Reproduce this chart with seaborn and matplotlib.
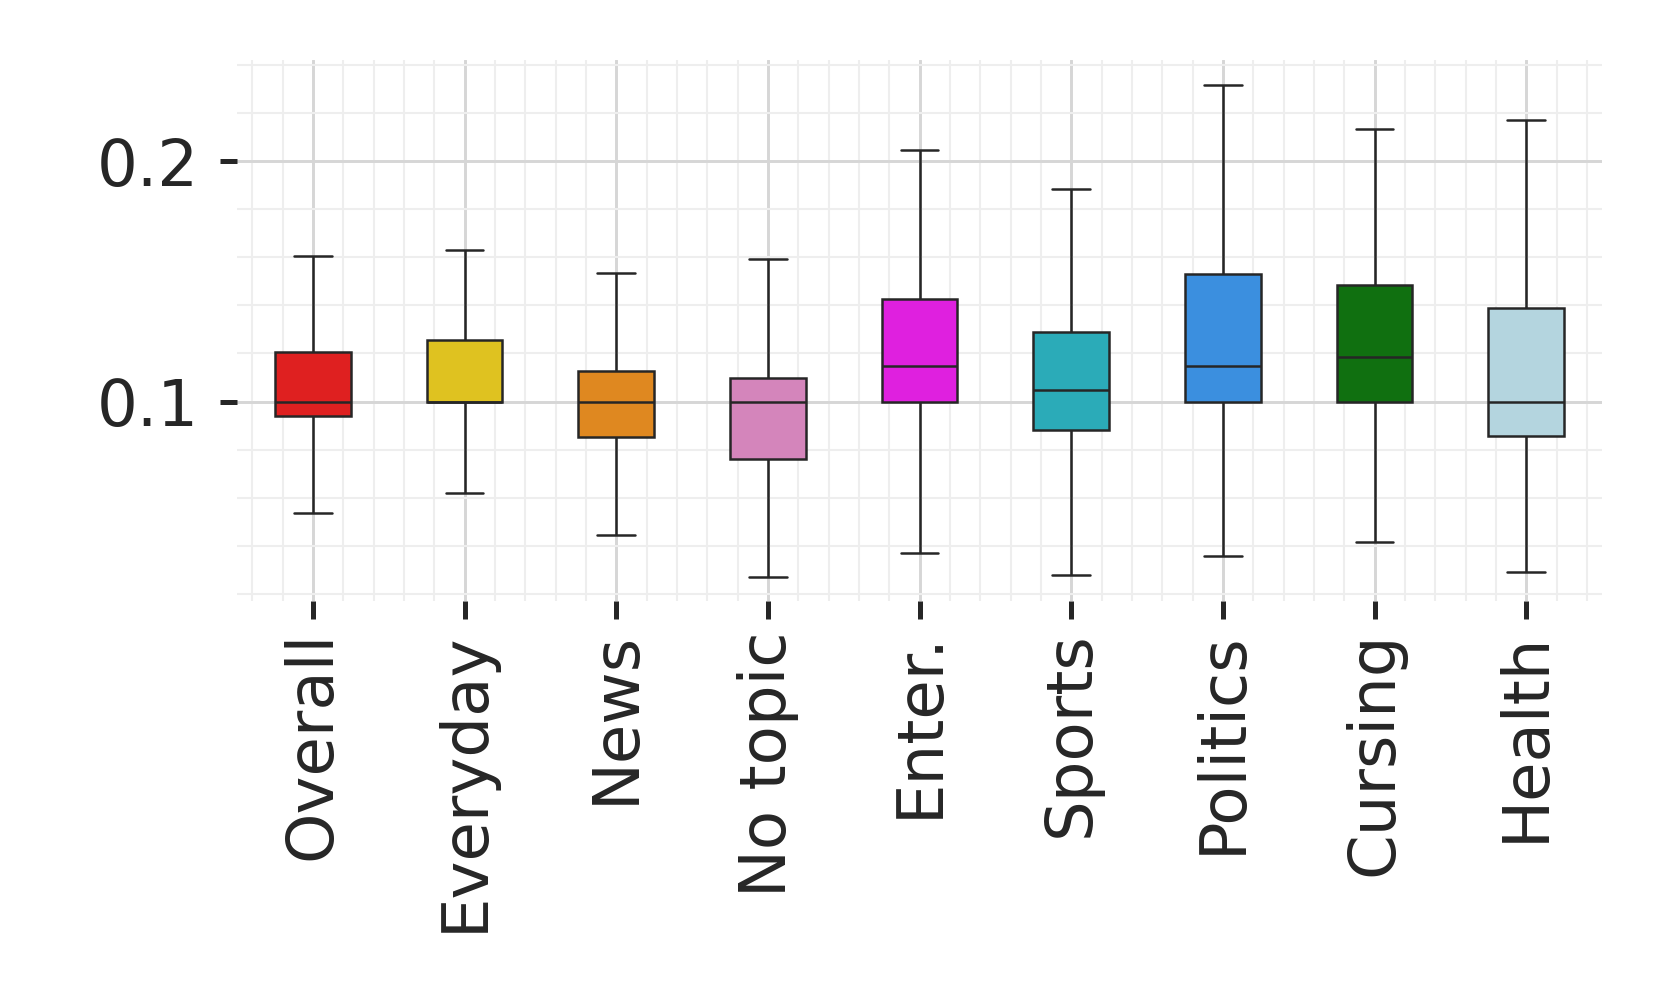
import numpy as np
import pandas as pd
import seaborn as sns
import matplotlib
matplotlib.use("Agg")
import matplotlib.pyplot as plt
from matplotlib.ticker import MultipleLocator, AutoMinorLocator

# five-number summaries (whisker low, Q1, median, Q3, whisker high)
categorias = ["Overall", "Everyday", "News", "No topic", "Enter.",
              "Sports", "Politics", "Cursing", "Health"]
whisker_low = [0.0538, 0.0620, 0.0445, 0.0272, 0.0369, 0.0280, 0.0358, 0.0417, 0.0292]
q1 = [0.0938, 0.1000, 0.0852, 0.0763, 0.1000, 0.0883, 0.1000, 0.1000, 0.0858]
mediana = [0.1000, 0.1000, 0.1000, 0.1000, 0.1146, 0.1048, 0.1149, 0.1186, 0.1000]
q3 = [0.1208, 0.1254, 0.1128, 0.1097, 0.1425, 0.1289, 0.1531, 0.1485, 0.1391]
whisker_high = [0.1606, 0.1632, 0.1534, 0.1591, 0.2045, 0.1886, 0.2317, 0.2132, 0.2171]

cores = ["#df2020", "#dfc220", "#df8820", "#d485bb", "#df20df",
         "#2babb8", "#3b8fdf", "#107010", "#b4d5df"]

linhas = []
for i, cat in enumerate(categorias):
    for v in [whisker_low[i], q1[i], mediana[i], q3[i], whisker_high[i]]:
        linhas.append({"categoria": cat, "valor": v})
df = pd.DataFrame(linhas)

sns.set_theme(style="whitegrid")
plt.rcParams["font.family"] = ["DejaVu Sans"]

fig, ax = plt.subplots(figsize=(1661 / 300, 997 / 300), dpi=300)
fig.subplots_adjust(left=0.1427, right=0.9645, top=0.9395, bottom=0.397)

sns.boxplot(
    data=df, x="categoria", y="valor", hue="categoria",
    order=categorias, hue_order=categorias, palette=cores,
    saturation=1, width=0.5, whis=(0, 100), showfliers=False,
    linecolor="#262626", linewidth=0.6, legend=False, ax=ax
)

ax.yaxis.set_major_locator(MultipleLocator(0.1))
ax.yaxis.set_minor_locator(AutoMinorLocator(5))
ax.xaxis.set_minor_locator(AutoMinorLocator(5))
ax.yaxis.set_major_formatter(matplotlib.ticker.FormatStrFormatter("%.1f"))

ax.grid(which="major", color="#d6d6d6", linewidth=0.7)
ax.grid(which="minor", color="#eeeeee", linewidth=0.5)
ax.set_axisbelow(True)

for s in ax.spines.values():
    s.set_visible(False)

ax.tick_params(which="major", length=4.2, width=1.2, color="#262626",
               labelsize=15.4, labelcolor="#262626", pad=5,
               bottom=True, left=True)
ax.tick_params(axis="x", pad=3, labelrotation=90)
ax.tick_params(which="minor", length=0, bottom=False, left=False)

ax.set_xlabel("")
ax.set_ylabel("")

fig.savefig("out.png", dpi=300)
